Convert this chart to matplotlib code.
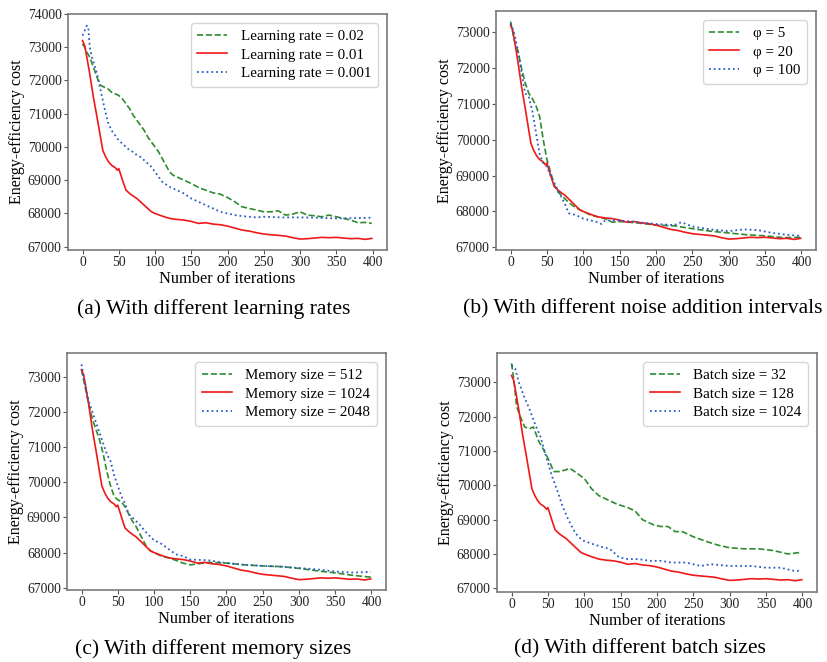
import matplotlib
matplotlib.use("Agg")
import matplotlib.pyplot as plt

plt.rcParams['font.family'] = ['Liberation Serif', 'DejaVu Serif']
plt.rcParams['mathtext.fontset'] = 'stix'

# ---------------- data ----------------
# shared default-configuration curve (red, solid)
red_x = [0,3,6,10,15,20,24,28,32,36,40,45,48,50,53,56,60,65,70,75,80,85,90,95,100,110,120,130,140,150,
         160,170,180,190,200,210,220,230,240,250,260,270,280,290,300,310,320,330,340,350,360,370,380,390,399]
red_y = [73200,73050,72700,72200,71500,70900,70400,69900,69700,69550,69450,69380,69300,69350,69150,68950,68700,
         68600,68520,68450,68350,68250,68150,68050,68000,67920,67850,67820,67800,67760,67700,67720,67680,67660,
         67620,67560,67500,67470,67420,67380,67360,67340,67320,67270,67230,67240,67260,67280,67270,67280,67260,
         67240,67250,67220,67250]

# (a) learning rates
a_green_x = [0,3,6,10,15,20,25,30,35,40,45,50,55,60,65,70,75,80,85,90,95,100,105,110,115,120,125,130,140,150,
             160,170,180,190,200,210,220,230,240,250,260,270,280,290,300,310,320,330,340,350,360,370,380,390,399]
a_green_y = [73100,73000,72850,72700,72400,72100,71850,71800,71750,71650,71600,71550,71450,71300,71150,70950,
             70800,70650,70500,70300,70150,70000,69850,69650,69450,69250,69150,69100,69000,68900,68780,68700,
             68620,68580,68480,68350,68200,68150,68100,68050,68050,68080,67950,67980,68050,67950,67930,67900,
             67950,67900,67850,67800,67720,67730,67700]
a_blue_x = [0,3,6,8,10,13,16,20,25,30,35,40,45,50,55,60,65,70,75,80,85,90,95,100,110,120,130,140,150,160,170,
            180,190,200,210,220,230,240,250,275,300,325,350,375,399]
a_blue_y = [73350,73500,73650,73600,73000,72700,72500,72200,71700,71200,70750,70500,70350,70200,70100,70000,
            69900,69850,69750,69700,69600,69500,69400,69250,68950,68800,68700,68600,68450,68350,68250,68150,
            68050,68000,67950,67920,67900,67880,67900,67880,67880,67870,67850,67860,67870]

# (b) noise addition intervals
b_green_x = [0,3,6,10,15,20,25,30,35,40,45,50,55,60,65,70,75,80,90,100,110,120,130,140,150,175,200,225,250,
             275,300,325,350,375,399]
b_green_y = [73300,73000,72700,72500,72000,71600,71300,71150,70950,70650,70000,69450,69100,68750,68550,68450,
             68350,68250,68100,68000,67900,67850,67800,67700,67720,67680,67620,67600,67520,67450,67400,67350,
             67320,67270,67280]
b_blue_x = [0,3,6,10,15,20,25,30,35,40,45,50,55,60,65,70,75,80,90,100,110,120,125,130,140,150,175,200,225,
            235,250,275,300,320,340,360,380,399]
b_blue_y = [73250,73100,72900,72500,71900,71300,71200,70800,70200,69600,69350,69250,69000,68800,68600,68400,
            68200,67950,67900,67800,67750,67700,67650,67750,67750,67750,67700,67650,67620,67700,67580,67500,
            67450,67500,67480,67400,67350,67320]

# (c) memory sizes
c_green_x = [0,3,6,10,15,20,25,30,35,40,45,50,55,60,65,70,75,80,85,90,95,100,110,120,130,140,150,175,200,
             225,250,275,300,325,350,375,399]
c_green_y = [73200,72900,72600,72200,71800,71500,71200,70800,70300,69900,69600,69500,69450,69300,69100,68900,
             68750,68550,68350,68150,68050,68000,67900,67850,67780,67700,67650,67720,67700,67650,67620,67600,
             67550,67480,67420,67350,67300]
c_blue_x = [0,3,6,10,15,20,25,30,35,40,45,50,55,60,65,70,80,90,100,110,120,130,140,150,175,200,225,250,275,
            300,325,350,375,399]
c_blue_y = [73350,73000,72700,72300,72000,71700,71400,71100,70800,70600,70200,69900,69600,69400,69100,69000,
            68800,68550,68350,68250,68100,67950,67900,67800,67780,67700,67650,67620,67600,67560,67520,67460,
            67430,67450]

# (d) batch sizes
d_green_x = [0,3,7,12,18,25,30,37,45,52,58,65,75,80,90,100,110,120,130,145,160,170,180,195,205,215,225,235,
             250,270,285,300,320,340,360,380,399]
d_green_y = [73550,73100,72300,72000,71700,71650,71700,71300,71000,70700,70400,70400,70450,70500,70350,70200,
             69900,69700,69600,69450,69350,69250,69000,68850,68800,68800,68650,68650,68500,68350,68250,68180,
             68150,68150,68100,68000,68050]
d_blue_x = [0,5,10,17,25,32,40,48,55,62,70,78,88,97,110,125,135,148,160,175,190,205,220,240,260,275,300,330,
            350,370,390,399]
d_blue_y = [73500,73400,73000,72600,72200,71800,71400,70800,70300,69900,69400,69000,68600,68400,68300,68200,
            68150,67900,67850,67850,67800,67800,67750,67750,67650,67700,67650,67650,67600,67600,67500,67520]

labels_a = ["Learning rate = 0.02", "Learning rate = 0.01", "Learning rate = 0.001"]
labels_b = ["\u03c6 = 5", "\u03c6 = 20", "\u03c6 = 100"]
labels_c = ["Memory size = 512", "Memory size = 1024", "Memory size = 2048"]
labels_d = ["Batch size = 32", "Batch size = 128", "Batch size = 1024"]
captions = ["(a) With different learning rates", "(b) With different noise addition intervals",
            "(c) With different memory sizes", "(d) With different batch sizes"]
xticks = [0, 50, 100, 150, 200, 250, 300, 350, 400]

# ---------------- figure ----------------
W, H = 827, 662
fig = plt.figure(figsize=(W / 100, H / 100), dpi=100)

def box(l, t, r, b):
    return [l / W, 1 - b / H, (r - l) / W, (b - t) / H]

panels = [
    (box(68, 14, 387, 250), (66900, 74000), a_green_x, a_green_y, a_blue_x, a_blue_y, labels_a),
    (box(496, 11, 816, 250), (66925, 73595), b_green_x, b_green_y, b_blue_x, b_blue_y, labels_b),
    (box(67, 353, 386, 590), (66935, 73674), c_green_x, c_green_y, c_blue_x, c_blue_y, labels_c),
    (box(497, 353, 817, 592), (66892, 73854), d_green_x, d_green_y, d_blue_x, d_blue_y, labels_d),
]

GREEN = '#2e8b2e'
RED = '#f01818'
BLUE = '#2a5cc6'
SPINE = '#7a7a7a'

for rect, ylim, gx, gy, bx, by, labs in panels:
    ax = fig.add_axes(rect)
    ax.plot(gx, gy, linestyle='--', color=GREEN, lw=1.2, label=labs[0])
    ax.plot(red_x, red_y, linestyle='-', color=RED, lw=1.2, label=labs[1])
    ax.plot(bx, by, linestyle=':', color=BLUE, lw=1.3, label=labs[2])
    ax.set_xlim(-20, 420)
    ax.set_ylim(*ylim)
    ax.set_xticks(xticks)
    ax.set_yticks(list(range(67000, int(ylim[1]) + 1, 1000)))
    ax.tick_params(labelsize=9.8, color='#555555', length=3, pad=1.5, labelcolor='#222222')
    for s in ax.spines.values():
        s.set_color(SPINE)
        s.set_linewidth(1.2)
    ax.set_xlabel("Number of iterations", fontsize=11.8, labelpad=1)
    ax.set_ylabel("Energy-efficiency cost", fontsize=11.5, labelpad=2)
    leg = ax.legend(loc='upper right', fontsize=10.8, frameon=True, handlelength=2.0,
                    handletextpad=0.9, borderpad=0.45, labelspacing=0.32, borderaxespad=0.6)
    leg.get_frame().set_edgecolor('#cccccc')

fig.text(214 / W, 1 - 309 / H, captions[0], ha='center', va='center', fontsize=15.6)
fig.text(643 / W, 1 - 309 / H, captions[1], ha='center', va='center', fontsize=15.6)
fig.text(213 / W, 1 - 649 / H, captions[2], ha='center', va='center', fontsize=15.6)
fig.text(640 / W, 1 - 649 / H, captions[3], ha='center', va='center', fontsize=15.6)

fig.savefig("out.png", dpi=100)
